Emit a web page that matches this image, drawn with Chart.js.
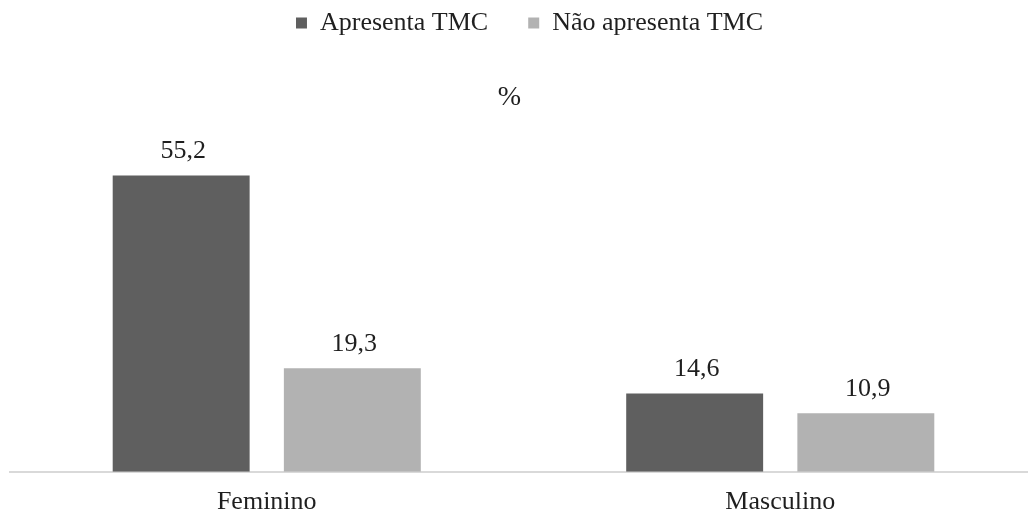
<!DOCTYPE html>
<html lang="pt">
<head>
<meta charset="utf-8">
<title>TMC por sexo</title>
<script src="https://cdn.jsdelivr.net/npm/chart.js@4/dist/chart.umd.min.js"></script>
<style>
  html, body { margin: 0; padding: 0; background: #ffffff; overflow: hidden; }
  #wrap { position: relative; width: 1038px; height: 536px; }
</style>
</head>
<body>
<div id="wrap"><canvas id="chart"></canvas></div>
<script>
// Categorias e séries (%)
const categorias = ['Feminino', 'Masculino'];
const seriesNomes = ['Apresenta TMC', 'Não apresenta TMC'];
const apresentaTMC = [55.2, 14.6];
const naoApresentaTMC = [19.3, 10.9];
const tituloTexto = '%';

const FONTE = "'Liberation Serif', 'Times New Roman', serif";
const COR_TEXTO = '#1f1f1f';

// Rótulos de valor acima de cada barra, com vírgula decimal
const rotulosValor = {
  id: 'rotulosValor',
  afterDatasetsDraw(chart) {
    const ctx = chart.ctx;
    ctx.save();
    ctx.font = '26px ' + FONTE;
    ctx.fillStyle = COR_TEXTO;
    ctx.textAlign = 'center';
    ctx.textBaseline = 'middle';
    chart.data.datasets.forEach((ds, i) => {
      chart.getDatasetMeta(i).data.forEach((bar, j) => {
        const txt = ds.data[j].toFixed(1).replace('.', ',');
        ctx.fillText(txt, bar.x + 2, bar.y - 24);
      });
    });
    ctx.restore();
  }
};

// Ajuste fino da posição da legenda e do título
const ajusteBlocos = {
  id: 'ajusteBlocos',
  afterLayout(chart) {
    const lg = chart.legend;
    if (lg) { lg.left += 6; lg.right += 6; lg.top -= 30; lg.bottom -= 30; }
    const tb = chart.titleBlock;
    if (tb) { tb.left -= 14; tb.right -= 14; }
  }
};

new Chart(document.getElementById('chart'), {
  type: 'bar',
  data: {
    labels: categorias,
    datasets: [
      { label: seriesNomes[0], data: apresentaTMC, backgroundColor: '#5f5f5f' },
      { label: seriesNomes[1], data: naoApresentaTMC, backgroundColor: '#b2b2b2' }
    ]
  },
  options: {
    responsive: true,
    maintainAspectRatio: false,
    animation: false,
    devicePixelRatio: 1,
    categoryPercentage: 2 / 3,
    barPercentage: 0.8,
    layout: { padding: { left: 10, right: 1, top: 0, bottom: 3 } },
    plugins: {
      legend: {
        position: 'top',
        maxHeight: 76,
        labels: {
          boxWidth: 11,
          boxHeight: 11,
          padding: 40,
          color: COR_TEXTO,
          font: { family: FONTE, size: 26 }
        }
      },
      title: {
        display: true,
        text: tituloTexto,
        weight: 500,
        color: COR_TEXTO,
        font: { family: FONTE, size: 28, weight: 'normal' },
        padding: { top: 5, bottom: 35 }
      },
      tooltip: { enabled: false }
    },
    scales: {
      x: {
        grid: { display: false, drawTicks: false },
        border: { display: true, color: '#d9d9d9', width: 2 },
        ticks: { color: COR_TEXTO, font: { family: FONTE, size: 26 }, padding: 15 }
      },
      y: {
        display: false,
        min: 0,
        max: 60
      }
    }
  },
  plugins: [rotulosValor, ajusteBlocos]
});
</script>
</body>
</html>
